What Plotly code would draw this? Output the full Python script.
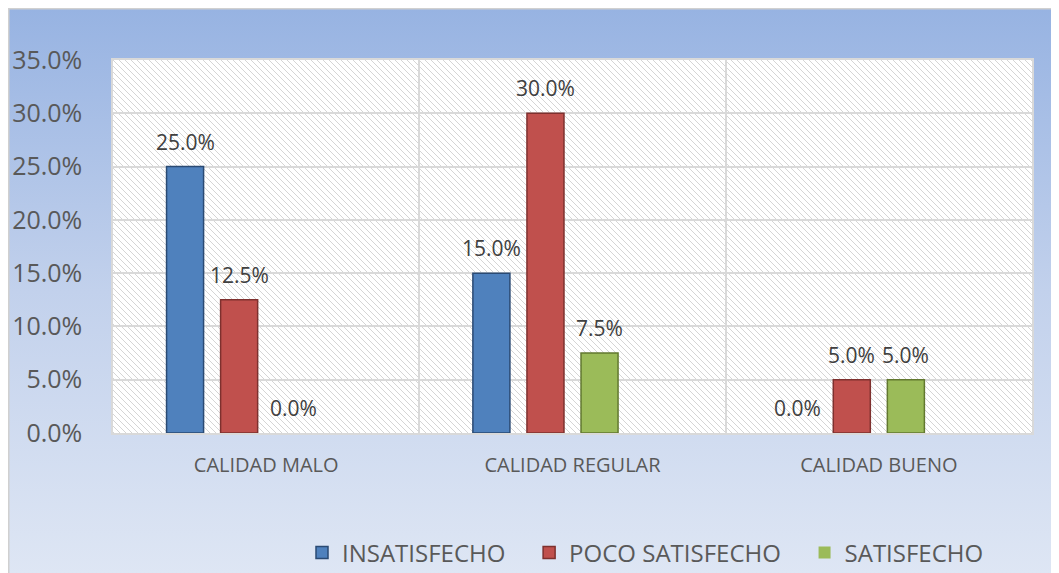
import base64
import plotly.graph_objects as go

categories = ["CALIDAD MALO", "CALIDAD REGULAR", "CALIDAD BUENO"]
series_names = ["INSATISFECHO", "POCO SATISFECHO", "SATISFECHO"]
insatisfecho = [0.25, 0.15, 0.0]
poco_satisfecho = [0.125, 0.30, 0.05]
satisfecho = [0.0, 0.075, 0.05]
y_ticks = [0, 0.05, 0.10, 0.15, 0.20, 0.25, 0.30, 0.35]

# page body has an 8px margin, so the figure starts at (8, 8) of the window
W, H = 1051, 565
L, R, T, B = 105, 27, 52, 140
PW, PH = W - L - R, H - T - B
N_SLOTS = 4          # the original chart reserves a fourth (empty) slot per group
BARGAP = 0.294
GROUPGAP = 0.315

fill_colors = ["#4F81BD", "#C0504D", "#9BBB59"]
line_colors = ["#2A4A73", "#7E302E", "#62782F"]

def data_uri(svg):
    return "data:image/svg+xml;base64," + base64.b64encode(svg.encode()).decode()

bg_svg = (
    f'<svg xmlns="http://www.w3.org/2000/svg" width="{W}" height="{H}">'
    '<defs><linearGradient id="g" x1="0" y1="0" x2="0" y2="1">'
    '<stop offset="0" stop-color="#97B3E2"/><stop offset="0.5" stop-color="#C2D1EC"/>'
    '<stop offset="1" stop-color="#DEE6F4"/></linearGradient></defs>'
    f'<rect x="0.75" y="0.75" width="{W}" height="{H}" fill="url(#g)" stroke="#D0D0D0" stroke-width="1.5"/></svg>'
)
hatch_svg = (
    f'<svg xmlns="http://www.w3.org/2000/svg" width="{PW}" height="{PH}">'
    '<defs><pattern id="h" width="6" height="6" patternUnits="userSpaceOnUse">'
    '<path d="M-1,-1 L7,7 M-1,5 L1,7 M5,-1 L7,1" stroke="#D0D0D0" stroke-width="0.9"/>'
    '</pattern></defs>'
    f'<rect width="{PW}" height="{PH}" fill="#FFFFFF"/>'
    f'<rect width="{PW}" height="{PH}" fill="url(#h)"/></svg>'
)

legend_pad = ["\u00a0\u00a0\u00a0", "\u00a0\u00a0\u00a0", ""]
all_series = [insatisfecho, poco_satisfecho, satisfecho]
slot = (1 - BARGAP) / N_SLOTS

fig = go.Figure()
annotations = []
for k, (name, vals, fc, lc) in enumerate(zip(series_names, all_series, fill_colors, line_colors)):
    fig.add_trace(go.Bar(
        x=list(range(len(categories))), y=vals, name=name + legend_pad[k],
        marker=dict(color=fc, line=dict(color=lc, width=[1.5 if v > 0 else 0 for v in vals])),
    ))
    for i, v in enumerate(vals):
        annotations.append(dict(
            x=i + (k - (N_SLOTS - 1) / 2) * slot, y=v, xref="x", yref="y",
            text=f"{v*100:.1f}%", showarrow=False, yanchor="middle", yshift=25,
            font=dict(family="Open Sans", size=21, color="#404040"),
        ))
# empty placeholder slot (keeps the groups offset like the original)
fig.add_trace(go.Bar(x=list(range(len(categories))), y=[None] * len(categories),
                     showlegend=False, hoverinfo="skip"))

fig.update_layout(
    width=W, height=H,
    margin=dict(l=L, r=R, t=T, b=B, autoexpand=False),
    paper_bgcolor="#FFFFFF", plot_bgcolor="#FFFFFF",
    barmode="group", bargap=BARGAP, bargroupgap=GROUPGAP,
    font=dict(family="Open Sans", color="#595959"),
    showlegend=True,
    legend=dict(orientation="h", x=(294 - L) / PW, xanchor="left",
                y=(H - B - 545) / PH, yanchor="middle",
                font=dict(family="Open Sans", size=24, color="#595959"),
                bgcolor="rgba(0,0,0,0)", itemwidth=30, traceorder="normal"),
    annotations=annotations,
    images=[
        dict(source=data_uri(bg_svg), xref="paper", yref="paper",
             x=-L / PW, y=(H - B) / PH, sizex=W / PW, sizey=H / PH,
             xanchor="left", yanchor="top", sizing="stretch", layer="below"),
        dict(source=data_uri(hatch_svg), xref="paper", yref="paper",
             x=0, y=1, sizex=1, sizey=1, xanchor="left", yanchor="top",
             sizing="stretch", layer="below"),
    ],
)
fig.update_xaxes(
    range=[-0.5, len(categories) - 0.5],
    tickvals=list(range(len(categories))), ticktext=categories,
    tickfont=dict(family="Open Sans", size=20, color="#595959"),
    showgrid=False, ticks="", ticklabelstandoff=13,
    minor=dict(tickvals=[0.5, 1.5], showgrid=True, gridcolor="#D9D9D9", gridwidth=1.5, ticks=""),
    showline=True, linecolor="#D9D9D9", linewidth=1.5, mirror=True, zeroline=False,
)
fig.update_yaxes(
    range=[0, 0.35], tickvals=y_ticks, tickformat=".1%",
    tickfont=dict(family="Open Sans", size=25, color="#595959"),
    showgrid=True, gridcolor="#D9D9D9", gridwidth=1.5, ticks="", ticklabelstandoff=24,
    showline=True, linecolor="#D9D9D9", linewidth=1.5, mirror=True, zeroline=False,
)
fig.write_html("out.html")
